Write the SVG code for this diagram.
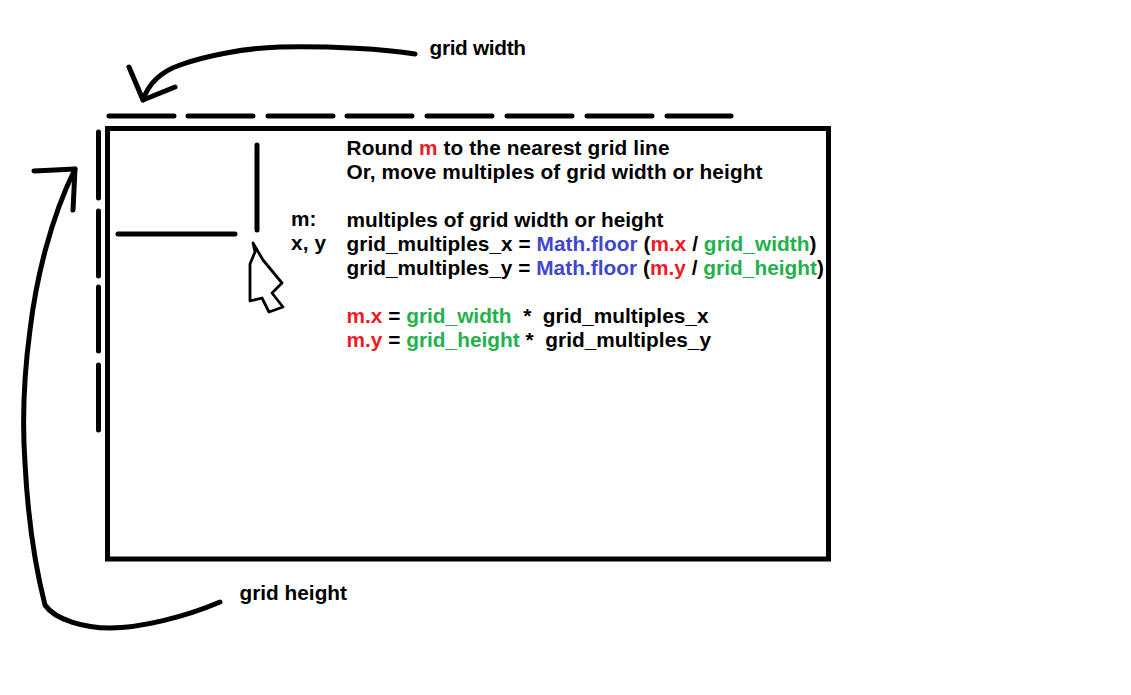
<svg xmlns="http://www.w3.org/2000/svg" width="1131" height="695" viewBox="0 0 1131 695">
<style>
.s{fill:none;stroke:#000;stroke-width:5;stroke-linecap:round;stroke-linejoin:round}
.c{stroke-width:2.800}
text{font-family:"Liberation Sans",Arial,sans-serif;font-weight:bold;font-size:20.800px;fill:#000;white-space:pre}
.r{fill:#ed1c24}.g{fill:#22b14c}.b{fill:#3f48cc}
</style>
<rect width="1131" height="695" fill="#fff"/>
<g id="grid-box"><rect class="s" style="stroke-linecap:butt;stroke-linejoin:miter" x="107.500" y="128.500" width="721" height="430.500"/></g>
<g id="grid-width-dashes"><path class="s" d="M109 116H174M188 116H253M268 116H333M347 116H412M427 116H492M507 116H572M587 116H652M667 116H731"/></g>
<g id="grid-height-dashes"><path class="s" d="M98.500 132V198M98.500 211V276M98.500 287V351M98.500 365V430"/></g>
<g id="crosshair"><path class="s" d="M257 145V230M118 234H235"/></g>
<g id="cursor"><path class="s c" d="M253 243L255 252L250 264L250 301L262 298L269 312L283 307L272 293L282 283L263 260Z"/></g>
<g id="connectors">
<path class="s" d="M415 54C385 49 330 46 280 47C245 48 205 56 180 65C160 72 148 85 143 100"/>
<path class="s" d="M129 67L143 100L175 87"/>
<path class="s" d="M220 602C185 617 140 628 110 628C85 628 55 620 45 605C36 570 28 520 25 463C22 420 24 375 30 330C36 280 50 220 75 169"/>
<path class="s" d="M34 171L75 169L73 210"/>
</g>
<g id="labels">
<text x="429.500" y="55" textLength="96.500">grid width</text>
<text x="239.500" y="600" textLength="107.500">grid height</text>
<text x="291" y="226">m:</text>
<text x="291" y="250" textLength="35">x, y</text>
</g>
<g id="notes">
<text x="346.500" y="155" textLength="323">Round <tspan class="r">m</tspan> to the nearest grid line</text>
<text x="346.500" y="179" textLength="416">Or, move multiples of grid width or height</text>
<text x="346.500" y="227" textLength="317">multiples of grid width or height</text>
<text x="346.500" y="251" textLength="470">grid_multiples_x = <tspan class="b">Math.floor</tspan> (<tspan class="r">m.x</tspan> / <tspan class="g">grid_width</tspan>)</text>
<text x="346.500" y="275" textLength="477.500">grid_multiples_y = <tspan class="b">Math.floor</tspan> (<tspan class="r">m.y</tspan> / <tspan class="g">grid_height</tspan>)</text>
<text x="346.500" y="323" textLength="362"><tspan class="r">m.x</tspan> = <tspan class="g">grid_width</tspan>  *  grid_multiples_x</text>
<text x="346.500" y="347" textLength="364.500"><tspan class="r">m.y</tspan> = <tspan class="g">grid_height</tspan> *  grid_multiples_y</text>
</g>
</svg>
